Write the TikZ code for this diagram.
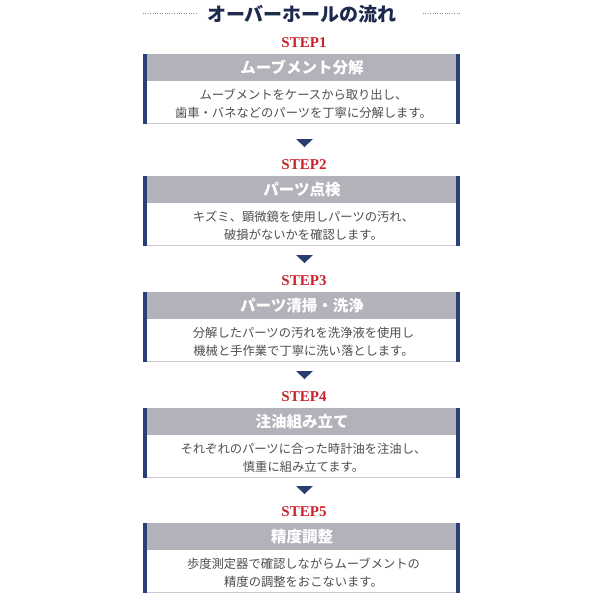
\documentclass[tikz,border=0pt]{standalone}
\usepackage{fontspec}
\setmainfont{Liberation Serif}
\newfontfamily\jp{Noto Sans CJK JP}
\definecolor{titlenavy}{HTML}{1E2A4D}
\definecolor{barblue}{HTML}{2A3F78}
\definecolor{headgray}{HTML}{B2B3BA}
\definecolor{bodytext}{HTML}{4E4E52}
\definecolor{stepred}{HTML}{C8232C}
\definecolor{arrownavy}{HTML}{2B3C6E}
\definecolor{lineg}{HTML}{CACACE}
\definecolor{dotg}{HTML}{8A90A8}
\tikzset{
  steplabel/.style={font=\fontsize{15}{15}\selectfont\bfseries, text=stepred, inner sep=0pt},
  headtext/.style={font=\jp\fontsize{15.5}{16}\selectfont\bfseries, text=white, inner sep=0pt},
  bodyline/.style={font=\jp\fontsize{12.3}{13}\selectfont, text=bodytext, inner sep=0pt},
}
\newcommand\stepblock[6]{%
  % #1 id, #2 top, #3 step label, #4 header, #5 line1, #6 line2
  \fill[headgray] (147,#2) rectangle (456,#2+27);
  \fill[white] (147,#2+27) rectangle (456,#2+70);
  \draw[lineg, line width=1pt] (147,#2+69.5) -- (456,#2+69.5);
  \fill[barblue] (143,#2) rectangle (147,#2+70);
  \fill[barblue] (456,#2) rectangle (460,#2+70);
  \node[steplabel] (s#1) at (304,#2-11) {#3};
  \node[headtext] (h#1) at (302,#2+14) {#4};
  \node[bodyline] (a#1) at (303.5,#2+41) {#5};
  \node[bodyline] (b#1) at (303.5,#2+59) {#6};
}
\newcommand\downtri[1]{%
  \fill[arrownavy] (296,#1-37) -- (313,#1-37) -- (304.5,#1-29) -- cycle;
}
\begin{document}
\begin{tikzpicture}[x=1pt,y=-1pt]
\useasboundingbox (0,0) rectangle (600,600);
\fill[white] (0,0) rectangle (600,600);
\node[font=\jp\fontsize{19}{20}\selectfont\bfseries, text=titlenavy, inner sep=0pt] (title) at (302,14) {オーバーホールの流れ};
\draw[dotg, line width=1pt, dash pattern=on 0.8pt off 1.6pt] (143,13) -- (196,13);
\draw[dotg, line width=1pt, dash pattern=on 0.8pt off 1.6pt] (423,13) -- (460,13);
\stepblock{1}{54}{STEP1}{ムーブメント分解}{ムーブメントをケースから取り出し、}{歯車・バネなどのパーツを丁寧に分解します。}
\downtri{176}
\stepblock{2}{176}{STEP2}{パーツ点検}{キズミ、顕微鏡を使用しパーツの汚れ、}{破損がないかを確認します。}
\downtri{292}
\stepblock{3}{292}{STEP3}{パーツ清掃・洗浄}{分解したパーツの汚れを洗浄液を使用し}{機械と手作業で丁寧に洗い落とします。}
\downtri{408}
\stepblock{4}{408}{STEP4}{注油組み立て}{それぞれのパーツに合った時計油を注油し、}{慎重に組み立てます。}
\downtri{523}
\stepblock{5}{523}{STEP5}{精度調整}{歩度測定器で確認しながらムーブメントの}{精度の調整をおこないます。}
\end{tikzpicture}
\end{document}
